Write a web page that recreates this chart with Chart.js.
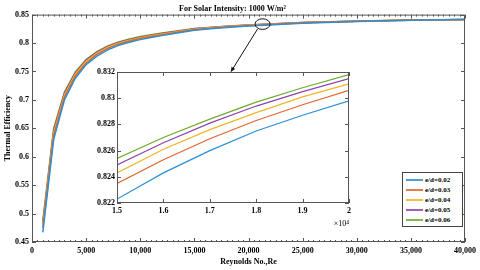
<!DOCTYPE html>
<html>
<head>
    <title>Thermal Efficiency vs Reynolds Number</title>
    <script src="https://cdn.jsdelivr.net/npm/chart.js"></script>
    <style>
body {
    margin: 0;
    background: #fff;
}

.wrap {
    position: relative;
    width: 480px;
    height: 270px;
}

#mainChart {
    position: absolute;
    left: 0;
    top: 0;
}

#insetChart {
    position: absolute;
    left: 85px;
    top: 62px;
}

.legend {
    position: absolute;
    left: 402px;
    top: 172px;
    width: 59px;
    height: 51px;
    border: 1px solid #444;
    background: #fff;
    padding-top: 2px;
    box-sizing: content-box;
    font: bold 7px "Liberation Serif", serif;
    color: #000;
}

.legend .row {
    display: flex;
    align-items: center;
    height: 10px;
}

.legend .swatch {
    width: 17px;
    height: 2px;
    margin-left: 3px;
    margin-right: 2px;
    opacity: 0.85;
}
    </style>
</head>
<body>
  <div class="wrap">
      <canvas id="mainChart" width="480" height="270"></canvas>
      <canvas id="insetChart" width="275" height="170"></canvas>
      <div class="legend" id="legend"></div>
  </div>
    <script>
        // Reynolds numbers (x values)
        const reynolds = [1000, 2000, 3000, 4000, 5000, 6000, 7000, 8000, 9000, 10000,
          11000, 12000, 13000, 14000, 15000, 16000, 17000, 18000, 19000, 20000,
          25000, 30000, 35000, 40000];

        // Thermal efficiency for each roughness ratio e/d
        const eff002 = [0.467, 0.630, 0.700, 0.738, 0.762, 0.777, 0.788, 0.796, 0.8015, 0.806,
          0.8097, 0.8130, 0.8162, 0.8193, 0.8223, 0.8243, 0.8260, 0.8275, 0.8287, 0.8298,
          0.8350, 0.8380, 0.8400, 0.8414];
        const eff003 = [0.475, 0.637, 0.705, 0.742, 0.765, 0.780, 0.7905, 0.798, 0.8035, 0.8078,
          0.8113, 0.8145, 0.8176, 0.8206, 0.8235, 0.8253, 0.8269, 0.8283, 0.8295, 0.8306,
          0.8355, 0.8383, 0.8402, 0.8415];
        const eff004 = [0.479, 0.642, 0.709, 0.745, 0.768, 0.782, 0.7925, 0.7995, 0.805, 0.8092,
          0.8126, 0.8157, 0.8187, 0.8215, 0.8243, 0.8261, 0.8276, 0.8289, 0.8301, 0.8311,
          0.8357, 0.8384, 0.8402, 0.8415];
        const eff005 = [0.483, 0.646, 0.712, 0.747, 0.770, 0.784, 0.794, 0.801, 0.806, 0.8102,
          0.8136, 0.8166, 0.8195, 0.8222, 0.8249, 0.8266, 0.8281, 0.8294, 0.8305, 0.8315,
          0.8359, 0.8385, 0.8403, 0.8415];
        const eff006 = [0.488, 0.650, 0.714, 0.749, 0.771, 0.785, 0.795, 0.802, 0.8072, 0.8113,
          0.8146, 0.8175, 0.8203, 0.8229, 0.8254, 0.8270, 0.8284, 0.8297, 0.8308, 0.8318,
          0.8360, 0.8386, 0.8403, 0.8415];

        const seriesLabels = ['e/d=0.02', 'e/d=0.03', 'e/d=0.04', 'e/d=0.05', 'e/d=0.06'];
        const seriesValues = [eff002, eff003, eff004, eff005, eff006];
        const seriesColors = ['#2b8fd6', '#e0662f', '#f0b429', '#8e44a6', '#6fab2f'];

        // Zoom marker on the main chart (ellipse centre and arrow end, in data units)
        const zoomMark = { x: 21300, y: 0.8333 };
        const arrowFrom = { x: 20830, y: 0.8245 };
        const arrowTo = { x: 18380, y: 0.7496 };

        const font = { family: '"Liberation Serif", serif', weight: 'bold', size: 8 };
        const axisColor = '#555';

        function makeDatasets(width) {
          return seriesValues.map((vals, i) => ({
            label: seriesLabels[i],
            data: reynolds.map((re, j) => ({ x: re, y: vals[j] })),
            borderColor: seriesColors[i],
            backgroundColor: seriesColors[i],
            borderWidth: width,
            pointRadius: 0,
            tension: 0,
          }));
        }

        function fmtNum(v) {
          return String(+v.toFixed(4));
        }

        // Box around the plot area with inward tick marks (MATLAB look)
        const boxTicks = {
          id: 'boxTicks',
          afterDraw(chart, args, opts) {
            const ctx = chart.ctx;
            const a = chart.chartArea;
            ctx.save();
            ctx.strokeStyle = axisColor;
            ctx.lineWidth = 1;
            ctx.strokeRect(a.left + 0.5, a.top + 0.5, a.right - a.left - 1, a.bottom - a.top - 1);
            ctx.beginPath();
            const xs = chart.scales.x;
            xs.ticks.forEach((t, i) => {
              const px = Math.round(xs.getPixelForTick(i)) + 0.5;
              const len = t.label !== '' ? opts.major : opts.minor;
              ctx.moveTo(px, a.bottom);
              ctx.lineTo(px, a.bottom - len);
              ctx.moveTo(px, a.top);
              ctx.lineTo(px, a.top + len);
            });
            const ys = chart.scales.y;
            ys.ticks.forEach((t, i) => {
              const py = Math.round(ys.getPixelForTick(i)) + 0.5;
              ctx.moveTo(a.left, py);
              ctx.lineTo(a.left + opts.major, py);
              ctx.moveTo(a.right, py);
              ctx.lineTo(a.right - opts.major, py);
            });
            ctx.stroke();
            ctx.restore();
          }
        };

        // Ellipse around the zoomed region and arrow pointing to the inset
        const zoomArrow = {
          id: 'zoomArrow',
          afterDraw(chart) {
            const ctx = chart.ctx;
            const xs = chart.scales.x, ys = chart.scales.y;
            const cx = xs.getPixelForValue(zoomMark.x), cy = ys.getPixelForValue(zoomMark.y);
            const x1 = xs.getPixelForValue(arrowFrom.x), y1 = ys.getPixelForValue(arrowFrom.y);
            const x2 = xs.getPixelForValue(arrowTo.x), y2 = ys.getPixelForValue(arrowTo.y);
            ctx.save();
            ctx.strokeStyle = '#111';
            ctx.fillStyle = '#111';
            ctx.lineWidth = 1;
            ctx.beginPath();
            ctx.ellipse(cx, cy, 7.5, 5.3, 0, 0, Math.PI * 2);
            ctx.stroke();
            ctx.beginPath();
            ctx.moveTo(x1, y1);
            ctx.lineTo(x2, y2);
            ctx.stroke();
            const ang = Math.atan2(y2 - y1, x2 - x1);
            ctx.beginPath();
            ctx.moveTo(x2, y2);
            ctx.lineTo(x2 - 5 * Math.cos(ang - 0.45), y2 - 5 * Math.sin(ang - 0.45));
            ctx.lineTo(x2 - 5 * Math.cos(ang + 0.45), y2 - 5 * Math.sin(ang + 0.45));
            ctx.closePath();
            ctx.fill();
            ctx.restore();
          }
        };

        // Main chart
        const mainChart = new Chart(document.getElementById('mainChart'), {
          type: 'line',
          data: { datasets: makeDatasets(1.5) },
          options: {
            responsive: false,
            animation: false,
            layout: { padding: { top: 0, right: 15, left: 0, bottom: 0 } },
            plugins: {
              legend: { display: false },
              tooltip: { enabled: false },
              title: {
                display: true,
                text: 'For Solar Intensity: 1000 W/m\u00B2',
                color: '#000',
                font: font,
                padding: { top: 4, bottom: 1 },
              },
              boxTicks: { major: 4, minor: 2 },
            },
            scales: {
              x: {
                type: 'linear',
                min: 0,
                max: 40000,
                afterFit: s => { s.height = 28; },
                grid: { display: false, drawTicks: false },
                border: { display: false },
                ticks: {
                  stepSize: 500,
                  autoSkip: false,
                  maxRotation: 0,
                  padding: 4,
                  color: '#000',
                  font: font,
                  callback: v => (v % 5000 === 0 ? v.toLocaleString('en-US') : ''),
                },
                title: {
                  display: true,
                  text: 'Reynolds No.,Re',
                  color: '#000',
                  font: font,
                  padding: { top: 0, bottom: 3 },
                },
              },
              y: {
                min: 0.45,
                max: 0.85,
                afterFit: s => { s.width = 32; },
                grid: { display: false, drawTicks: false },
                border: { display: false },
                ticks: {
                  stepSize: 0.05,
                  padding: 3,
                  color: '#000',
                  font: font,
                  callback: v => fmtNum(v),
                },
                title: {
                  display: true,
                  text: 'Thermal Efficiency',
                  color: '#000',
                  font: font,
                  padding: { top: 3, bottom: 0 },
                },
              },
            },
          },
          plugins: [boxTicks, zoomArrow],
        });

        // Inset chart (zoom on 15,000 - 20,000)
        const insetChart = new Chart(document.getElementById('insetChart'), {
          type: 'line',
          data: { datasets: makeDatasets(1.2) },
          options: {
            responsive: false,
            animation: false,
            layout: { padding: { top: 10, right: 11, left: 0, bottom: 0 } },
            plugins: {
              legend: { display: false },
              tooltip: { enabled: false },
              boxTicks: { major: 4, minor: 4 },
            },
            scales: {
              x: {
                type: 'linear',
                min: 15000,
                max: 20000,
                afterFit: s => { s.height = 29; },
                grid: { display: false, drawTicks: false },
                border: { display: false },
                ticks: {
                  stepSize: 1000,
                  autoSkip: false,
                  maxRotation: 0,
                  padding: 3,
                  color: '#000',
                  font: font,
                  callback: v => fmtNum(v / 10000),
                },
                title: {
                  display: true,
                  align: 'end',
                  text: '\u00D710\u2074',
                  color: '#000',
                  font: { family: '"Liberation Serif", serif', size: 8 },
                  padding: { top: 0, bottom: 3 },
                },
              },
              y: {
                min: 0.822,
                max: 0.832,
                afterFit: s => { s.width = 32; },
                grid: { display: false, drawTicks: false },
                border: { display: false },
                ticks: {
                  stepSize: 0.002,
                  padding: 2,
                  color: '#000',
                  font: font,
                  callback: v => fmtNum(v),
                },
              },
            },
          },
          plugins: [boxTicks],
        });

        // Legend built from the series arrays
        const legendEl = document.getElementById('legend');
        seriesLabels.forEach((lab, i) => {
          const row = document.createElement('div');
          row.className = 'row';
          const sw = document.createElement('span');
          sw.className = 'swatch';
          sw.style.background = seriesColors[i];
          const txt = document.createElement('span');
          txt.textContent = lab;
          row.appendChild(sw);
          row.appendChild(txt);
          legendEl.appendChild(row);
        });
    </script>
</body>
</html>
